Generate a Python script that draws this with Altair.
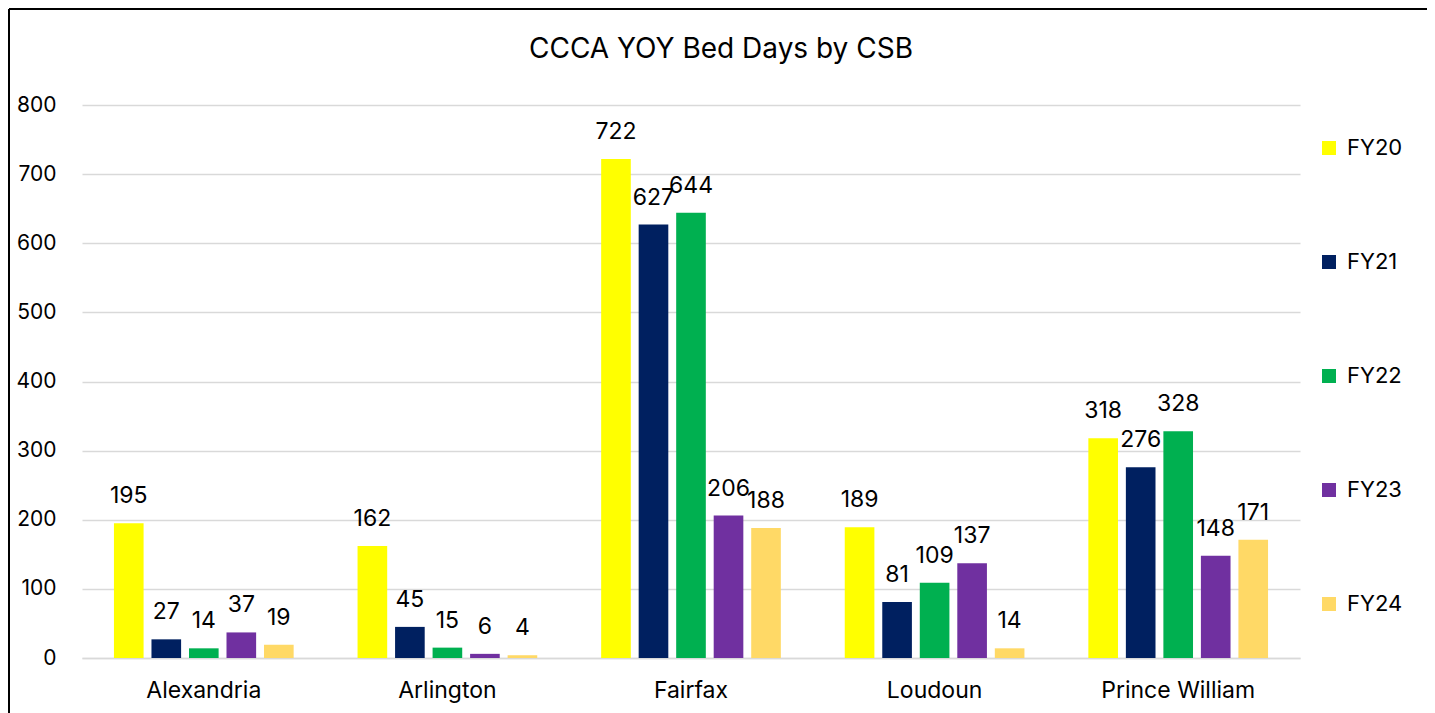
import altair as alt
import pandas as pd

csbs = ["Alexandria", "Arlington", "Fairfax", "Loudoun", "Prince William"]
years = ["FY20", "FY21", "FY22", "FY23", "FY24"]
fy20 = [195, 162, 722, 189, 318]
fy21 = [27, 45, 627, 81, 276]
fy22 = [14, 15, 644, 109, 328]
fy23 = [37, 6, 206, 137, 148]
fy24 = [19, 4, 188, 14, 171]
colors = ["#FFFF00", "#002060", "#00B050", "#7030A0", "#FFD966"]
y_ticks = [0, 100, 200, 300, 400, 500, 600, 700, 800]
title_text = ["CCCA YOY Bed Days by CSB"]

series = [fy20, fy21, fy22, fy23, fy24]
rows = []
for yr, vals in zip(years, series):
    for c, v in zip(csbs, vals):
        rows.append({"CSB": c, "Year": yr, "Days": v})
df = pd.DataFrame(rows)

FONT = "Inter"
W, H = 1218, 553

x = alt.X("CSB:N", sort=csbs, title=None,
          scale=alt.Scale(paddingInner=0.23, paddingOuter=0.115),
          axis=alt.Axis(labelAngle=0, labelFontSize=23, labelColor="#000000",
                        labelFont=FONT, labelPadding=21, ticks=False, grid=False,
                        domainColor="#D9D9D9", domainWidth=1.5))
xo = alt.XOffset("Year:N", sort=years,
                 scale=alt.Scale(paddingInner=0.21, paddingOuter=0.105))
y = alt.Y("Days:Q", title=None,
          scale=alt.Scale(domain=[0, 800], nice=False),
          axis=alt.Axis(values=y_ticks, labelFontSize=21, labelColor="#000000",
                        labelFont=FONT, labelPadding=26, ticks=False, domain=False,
                        gridColor="#D9D9D9", gridWidth=1.5))
color = alt.Color("Year:N", sort=years,
                  scale=alt.Scale(domain=years, range=colors),
                  legend=alt.Legend(title=None, orient="none", legendX=1236, legendY=32,
                                    symbolType="square", symbolSize=196,
                                    symbolStrokeWidth=0, labelFontSize=22,
                                    labelFont=FONT, labelColor="#000000",
                                    rowPadding=92, labelOffset=7))

base = alt.Chart(df)
bars = base.mark_bar().encode(x=x, xOffset=xo, y=y, color=color)
labels = base.mark_text(baseline="bottom", dy=-15, fontSize=23, font=FONT,
                        color="#000000").encode(
    x=alt.X("CSB:N", sort=csbs), xOffset=alt.XOffset("Year:N", sort=years),
    y="Days:Q", text="Days:Q")

title = alt.Chart(pd.DataFrame({"t": title_text})).mark_text(
    fontSize=28, font=FONT, color="#000000", baseline="middle", align="center"
).encode(x=alt.value(W / 2 + 30), y=alt.value(-55), text="t:N")

border_df = pd.DataFrame({"k": [0]})
top_line = alt.Chart(border_df).mark_rule(color="#000000", strokeWidth=2).encode(
    x=alt.value(-73), x2=alt.value(W + 200), y=alt.value(-96))
left_line = alt.Chart(border_df).mark_rule(color="#000000", strokeWidth=2).encode(
    x=alt.value(-73), y=alt.value(-96), y2=alt.value(H + 200))

chart = alt.layer(bars, labels, title, top_line, left_line).properties(
    width=W, height=H,
    background="#FFFFFF",
    autosize=alt.AutoSizeParams(type="none"),
    padding={"left": 74, "top": 97, "right": 127, "bottom": 55},
).configure_view(stroke=None, strokeWidth=0)

chart.save("out.html", embed_options={"renderer": "svg", "actions": False})
